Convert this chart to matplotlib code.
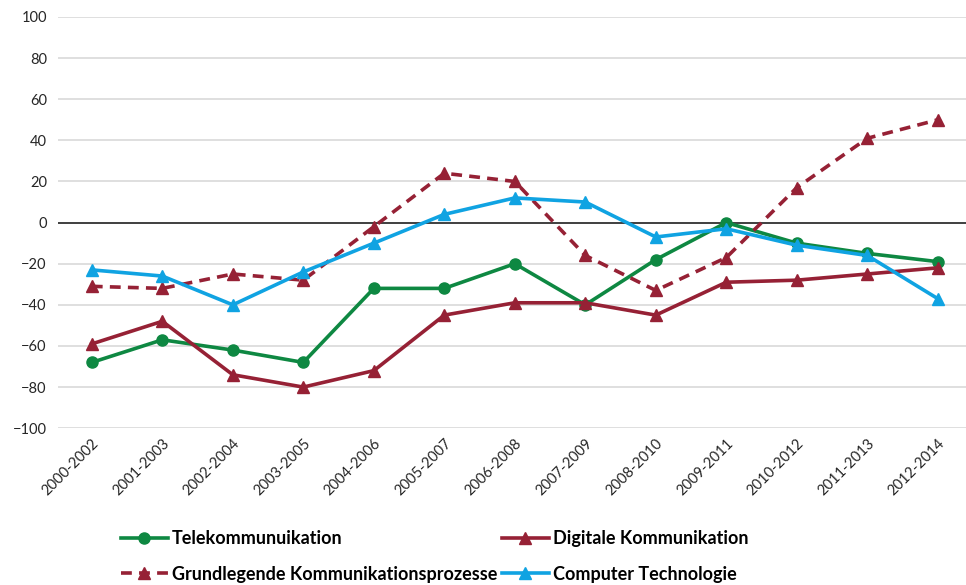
import numpy as np
import matplotlib.pyplot as plt

plt.rcParams['font.family'] = ['Lato', 'DejaVu Sans']

# Zeitraeume (gleitende Dreijahresfenster)
periods = ['2000-2002', '2001-2003', '2002-2004', '2003-2005', '2004-2006',
           '2005-2007', '2006-2008', '2007-2009', '2008-2010', '2009-2011',
           '2010-2012', '2011-2013', '2012-2014']

telekom = [-68, -57, -62, -68, -32, -32, -20, -40, -18, 0, -10, -15, -19]
digital = [-59, -48, -74, -80, -72, -45, -39, -39, -45, -29, -28, -25, -22]
grundlegend = [-31, -32, -25, -28, -2, 24, 20, -16, -33, -17, 17, 41, 50]
computer = [-23, -26, -40, -24, -10, 4, 12, 10, -7, -3, -11, -16, -37]

green = '#0E8842'
red = '#962135'
blue = '#10A3E2'

fig = plt.figure(figsize=(9.66, 5.85), dpi=100)
ax = fig.add_axes([0.060, 0.268, 0.94, 0.703])

x = np.arange(len(periods))
lw = 2.6
ax.plot(x, telekom, color=green, lw=lw, marker='o', ms=8, label='Telekommunuikation', zorder=3)
ax.plot(x, grundlegend, color=red, lw=lw, ls=(0, (3, 2)), marker='^', ms=8,
        label='Grundlegende Kommunikationsprozesse', zorder=3)
ax.plot(x, digital, color=red, lw=lw, marker='^', ms=8, label='Digitale Kommunikation', zorder=3)
ax.plot(x, computer, color=blue, lw=lw, marker='^', ms=8, label='Computer Technologie', zorder=3)

ax.set_ylim(-100, 100)
ax.set_yticks(np.arange(-100, 101, 20))
ax.set_xlim(-0.48, len(periods) - 1 + 0.4)
ax.set_xticks(x)
ax.set_xticklabels(periods, rotation=45, ha='right', rotation_mode='anchor')
ax.grid(axis='y', color='#D9D9D9', lw=1.2)
ax.axhline(0, color='#262626', lw=1.2, zorder=2)
ax.set_axisbelow(True)
for s in ax.spines.values():
    s.set_visible(False)
ax.tick_params(length=0, labelsize=10.5, colors='#262626')
ax.tick_params(axis='y', pad=8)
ax.tick_params(axis='x', pad=6)

leg = fig.legend(loc='lower left', bbox_to_anchor=(0.108, -0.024), ncol=2, frameon=False,
                 handlelength=2.6, columnspacing=0.25, handletextpad=0.25,
                 labelspacing=1.05, prop={'weight': 'bold', 'size': 13})

fig.savefig('out.png', dpi=100)
